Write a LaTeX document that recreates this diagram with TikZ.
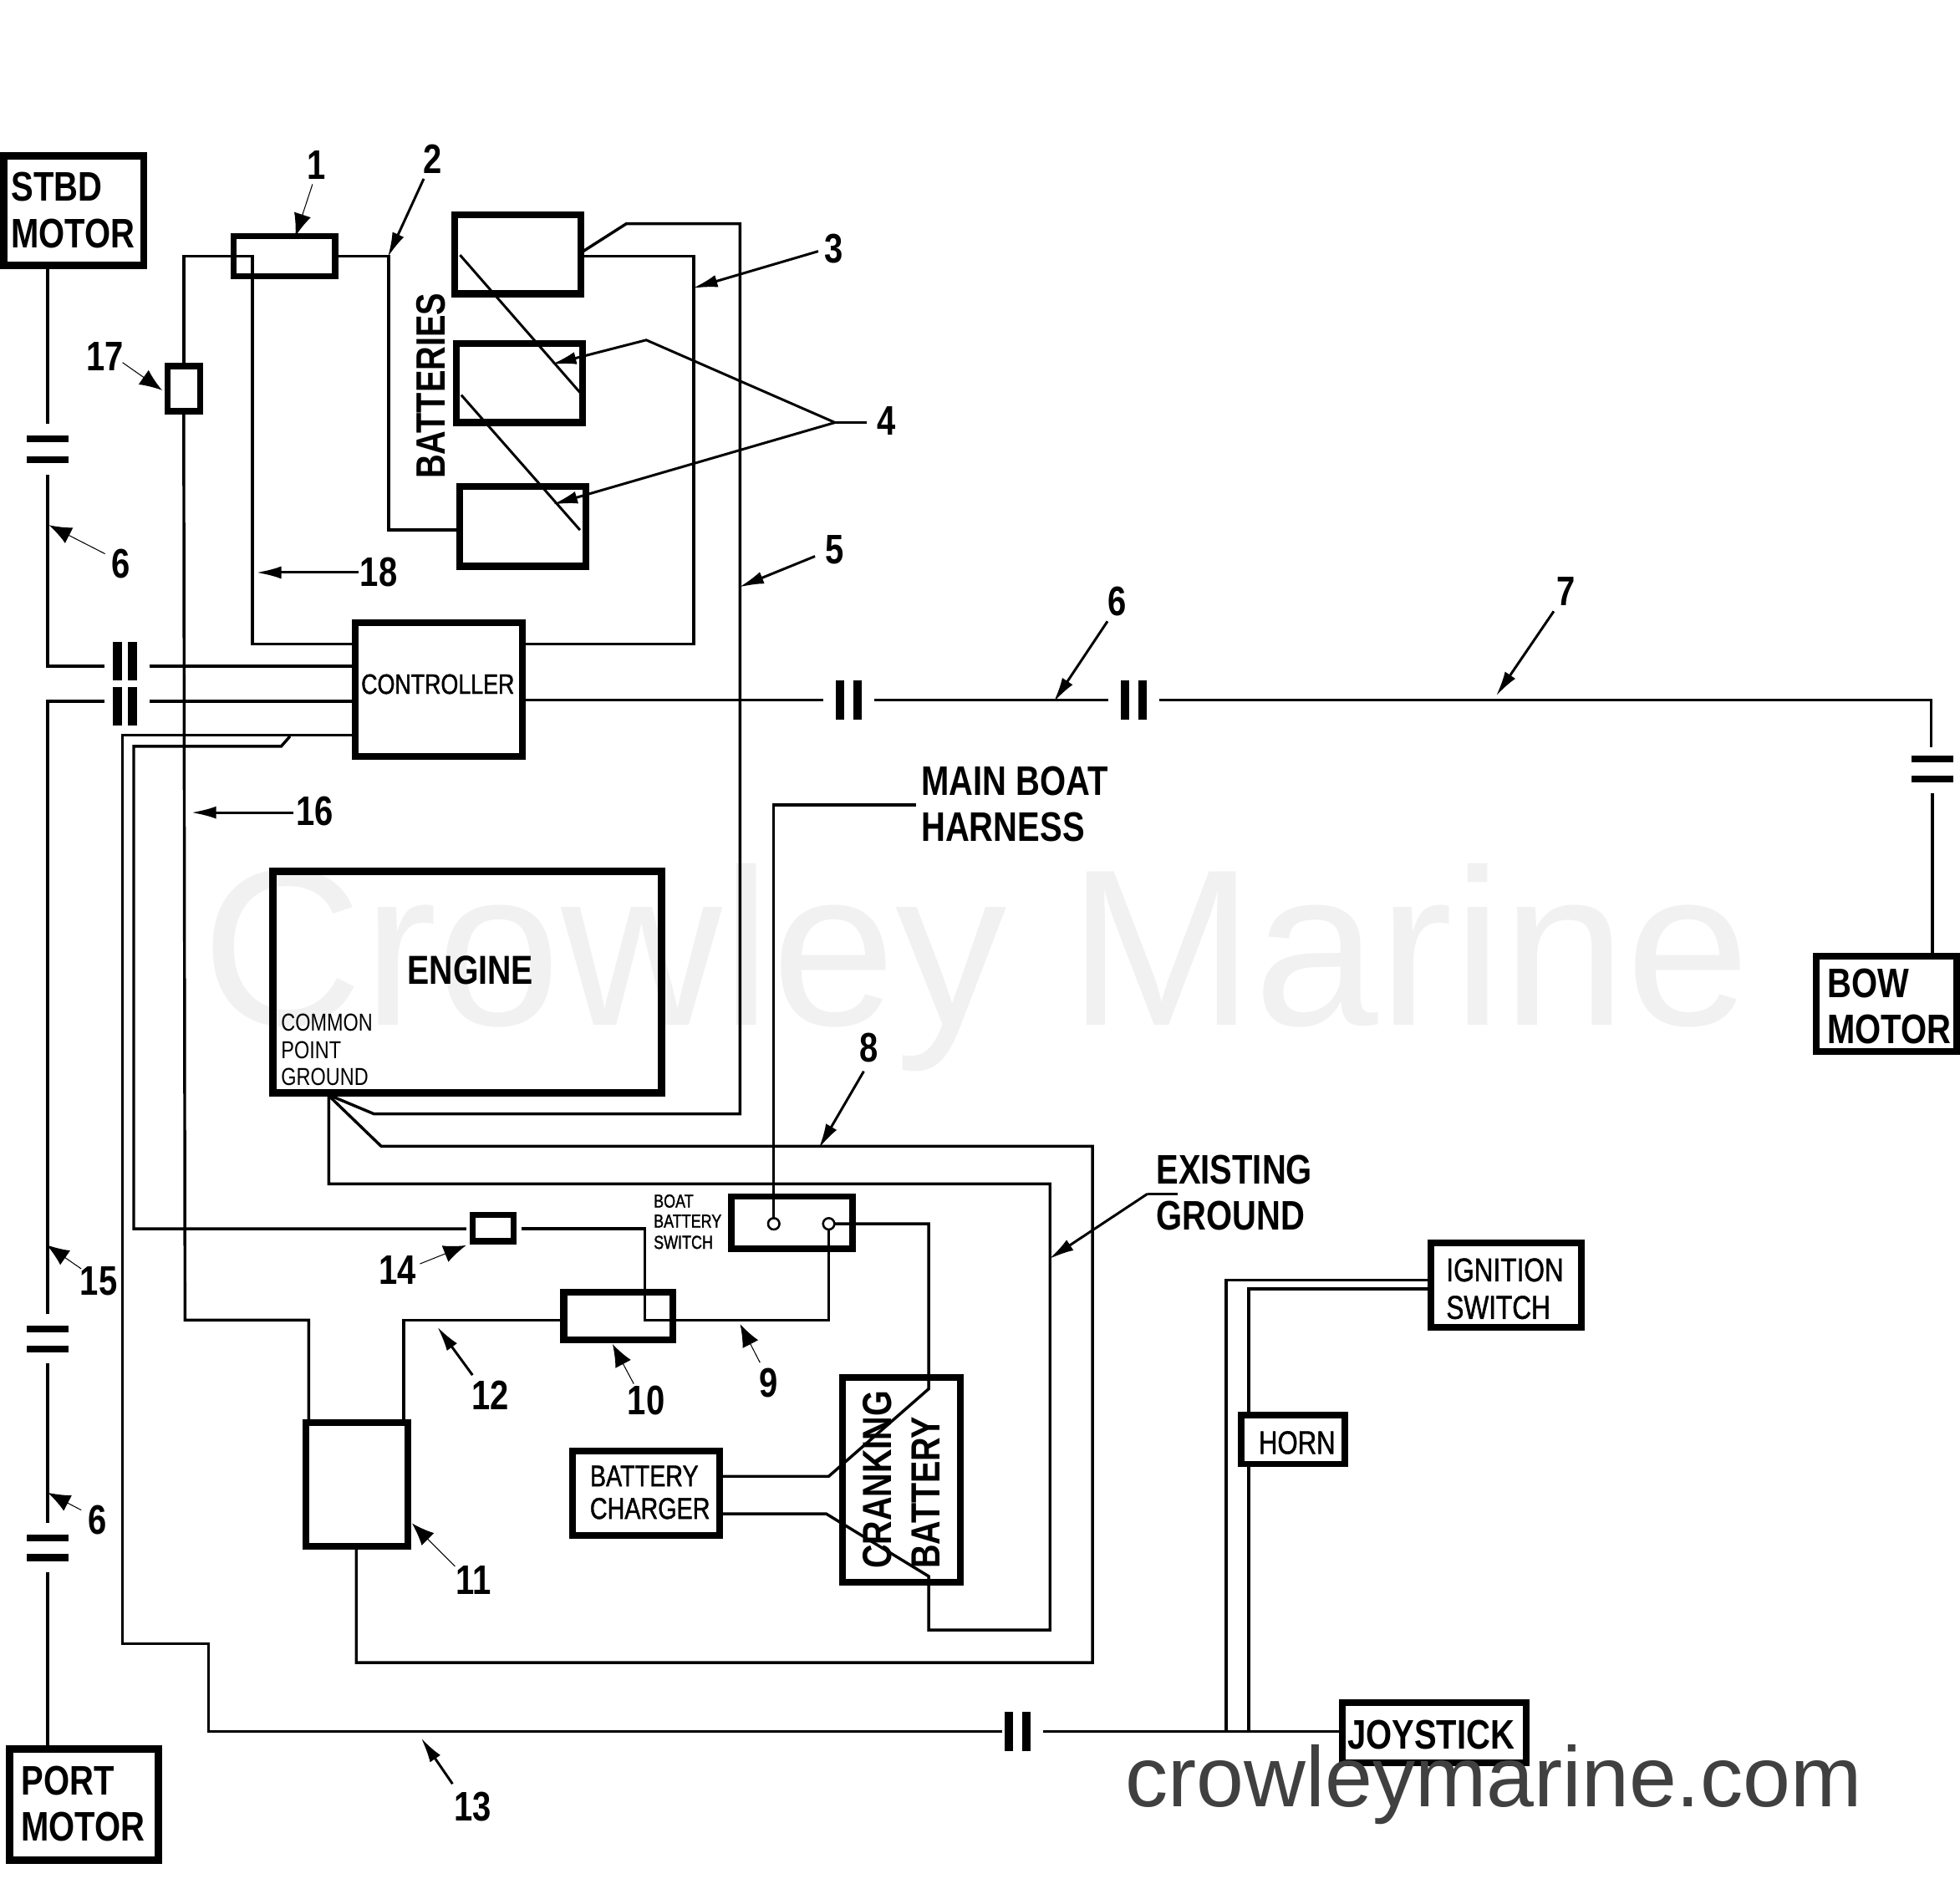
\documentclass[tikz,border=0pt]{standalone}
\usepackage{fontspec}
\usetikzlibrary{arrows.meta,calc}
\newfontfamily\labb[FakeStretch=0.81]{Liberation Sans Bold}
\newfontfamily\labm[FakeStretch=0.8,FakeBold=1.2]{Liberation Sans}
\newfontfamily\labr[FakeStretch=0.8]{Liberation Sans}
\setmainfont{Liberation Sans}
\definecolor{wm}{HTML}{F1F1F1}
\definecolor{wmd}{HTML}{404040}
\tikzset{
  wire/.style={draw=black,line width=1.15pt,line join=miter},
  boxn/.style={draw=black,rectangle,inner sep=0pt,outer sep=0pt},
  hbar/.style={fill=black,rectangle,inner sep=0pt,outer sep=0pt,minimum width=16.5pt,minimum height=2.7pt},
  vbar/.style={fill=black,rectangle,inner sep=0pt,outer sep=0pt,minimum width=3.4pt,minimum height=15.5pt},
  lab/.style={anchor=base west,inner sep=0pt,outer sep=0pt,text=black},
  num/.style={inner sep=0pt,outer sep=0pt,text=black,font=\labb\fontsize{16.5}{18}\selectfont},
  big/.style={lab,font=\labb\fontsize{16.5}{18}\selectfont},
  thinlead/.style={draw=black,line width=.35pt,shorten >=-1pt,-{Latex[length=9pt,width=7pt]}},
  medlead/.style={draw=black,line width=1pt,shorten >=-1pt,-{Latex[length=10pt,width=5pt]}},
  term/.style={circle,draw=black,line width=.8pt,fill=white,inner sep=0pt,outer sep=0pt,minimum size=4.5pt},
}
\newcommand{\mkbox}[6]{\node[boxn,line width=#6,minimum width={(#4-#2)*0.5pt},minimum height={(#5-#3)*0.5pt}] (#1) at ({(#2+#4)/2},{(#3+#5)/2}) {};}
\begin{document}
\begin{tikzpicture}[x=.5pt,y=-.5pt]
\useasboundingbox[fill=white] (0,0) rectangle (1568,1506.5);
% watermark
\node[anchor=base west,inner sep=0pt,text=wm,font=\fontsize{89.2}{100}\selectfont] (wmark) at (161,820) {Crowley Marine};
% boxes
\mkbox{stbd}{3}{125}{115}{212}{3pt}
\mkbox{fone}{187}{189}{268}{221}{2.5pt}
\mkbox{bata}{364}{172}{465}{235}{2.7pt}
\mkbox{batb}{365}{275}{466}{338}{2.7pt}
\mkbox{batc}{368}{389}{469}{453}{2.7pt}
\mkbox{fsev}{134}{293}{160}{329}{2.5pt}
\mkbox{ctrl}{284}{498}{418}{605}{2.7pt}
\mkbox{engine}{218}{697}{529}{874}{3pt}
\mkbox{sw}{585}{957}{682}{999}{2.5pt}
\mkbox{ffour}{378}{972}{411}{993}{2.5pt}
\mkbox{ften}{451}{1034}{538}{1072}{2.7pt}
\mkbox{eleven}{245}{1138}{326}{1237}{2.7pt}
\mkbox{chg}{458}{1161}{576}{1228}{2.7pt}
\mkbox{crank}{674}{1102}{768}{1266}{2.7pt}
\mkbox{ign}{1145}{994}{1265}{1062}{2.7pt}
\mkbox{horn}{993}{1132}{1076}{1171}{2.5pt}
\mkbox{joy}{1074}{1362}{1221}{1410}{2.7pt}
\mkbox{bow}{1453}{765}{1565}{841}{2.7pt}
\mkbox{port}{8}{1399}{127}{1488}{3pt}
% connector bars
\node[hbar] (ca) at (38,351) {}; \node[hbar] (cb) at (38,368) {};
\node[vbar] (da) at (94,529) {}; \node[vbar] (db) at (106,529) {};
\node[vbar] (ea) at (94,565) {}; \node[vbar] (eb) at (106,565) {};
\node[vbar] (fa) at (672,560) {}; \node[vbar] (fb) at (686,560) {};
\node[vbar] (ga) at (900,560) {}; \node[vbar] (gb) at (914,560) {};
\node[hbar] (ha) at (1546,607) {}; \node[hbar] (hb) at (1546,623) {};
\node[hbar] (ia) at (38,1063) {}; \node[hbar] (ib) at (38,1079) {};
\node[hbar] (ja) at (38,1230) {}; \node[hbar] (jb) at (38,1246) {};
\node[vbar] (ka) at (807,1385) {}; \node[vbar] (kb) at (821,1385) {};
% terminals
\node[term] (ta) at (619,979) {};
\node[term] (tb) at (663,979) {};
% wires
\draw[wire,shorten >=4.5pt] (stbd.south -| ca.north) -- (ca.north);
\draw[wire,shorten <=4.5pt,shorten >=3.5pt] (cb.south) -- (cb.south |- 0,533) -- (da.west |- 0,533);
\draw[wire,shorten <=5pt] (db.east |- 0,533) -- (ctrl.west |- 0,533);
\draw[wire,shorten >=3.5pt,shorten <=4.5pt] (ia.north) -- (ia.north |- 0,561) -- (ea.west |- 0,561);
\draw[wire,shorten <=5pt] (eb.east |- 0,561) -- (ctrl.west |- 0,561);
\draw[wire,shorten <=4.5pt,shorten >=4.5pt] (ib.south) -- (ja.north);
\draw[wire,shorten <=4.5pt] (jb.south) -- (port.north -| jb.south);
% main power
\draw[wire] (fsev.north) -- (fsev.north |- fone.west) -- (202,205) -- (202,515) -- (ctrl.west |- 0,515);
\draw[wire] (fone.east) -- (311,205) -- (311,424) -- (batc.west |- 0,424);
\draw[wire] (fsev.south) -- (148,1056) -- (247,1056) -- (eleven.north -| 247,0);
\draw[wire] (bata.east |- 0,205) -- (555,205) -- (555,515) -- (ctrl.east |- 0,515);
\draw[wire] (bata.east |- 0,202) -- (501,179) -- (592,179) -- (592,891) -- (299,891) -- (262,875.5);
\draw[wire,line width=1pt] (368,204) -- (464,314);
\draw[wire,line width=1pt] (369,316) -- (464,424);
% controller to bow
\draw[wire,shorten >=5pt] (ctrl.east |- 0,560) -- (fa.west);
\draw[wire,shorten <=5pt,shorten >=5pt] (fb.east) -- (ga.west);
\draw[wire,shorten <=5pt] (gb.east) -- (1545,560) -- (1545,598);
\draw[wire,shorten <=4.5pt] (hb.south) -- (bow.north -| hb.south);
% controller grounds
\draw[wire] (ctrl.west |- 0,588) -- (98,588) -- (98,1315) -- (167,1315) -- (167,1385) -- (802,1385);
\draw[wire] (232,589) -- (225,597) -- (107,597) -- (107,983) -- (373,983);
\draw[wire] (417,983) -- (516,983) -- (516,1056) -- (663,1056) -- (tb.south);
\draw[wire] (eleven.north -| 323,0) -- (323,1056) -- (ften.west |- 0,1056);
\draw[wire,shorten <=5pt] (kb.east) -- (joy.west |- kb.east);
% engine grounds
\draw[wire] (262,875.5) -- (305,917) -- (874,917) -- (874,1330) -- (285,1330) -- (285,1237);
\draw[wire] (263,875.5) -- (263,947) -- (840,947) -- (840,1304) -- (743,1304) -- (743,1261) -- (661,1211) -- (chg.east |- 0,1211);
\draw[wire] (chg.east |- 0,1181) -- (663,1181) -- (743,1111) -- (743,979) -- (tb.east);
\draw[wire] (ta.north) -- (619,644) -- (733,644);
% ignition / horn
\draw[wire] (ign.west |- 0,1024) -- (981,1024) -- (981,1385);
\draw[wire] (ign.west |- 0,1031) -- (999,1031) -- (horn.north -| 999,0);
\draw[wire] (horn.south -| 999,0) -- (999,1385);
% terminals redrawn above wires
\node[term] at (ta) {};
\node[term] at (tb) {};
% box texts
\node[big] (t1) at (9,161) {STBD};
\node[big] (t2) at (9,198.5) {MOTOR};
\node[big] (t3) at (17,1436) {PORT};
\node[big] (t4) at (17,1473) {MOTOR};
\node[big] (t5) at (1462,798) {BOW};
\node[big] (t6) at (1462,835) {MOTOR};
\node[big] (t7) at (1078,1399) {JOYSTICK};
\node[lab,font=\labb\fontsize{16.2}{18}\selectfont] (t8) at (326,787) {ENGINE};
\node[big] (t9) at (737,636) {MAIN BOAT};
\node[big] (t10) at (737,673) {HARNESS};
\node[big] (t11) at (925,947) {EXISTING};
\node[big] (t12) at (925,984) {GROUND};
\node[lab,font=\labm\fontsize{13.2}{15}\selectfont] (t13) at (1157,1025) {IGNITION};
\node[lab,font=\labm\fontsize{13.2}{15}\selectfont] (t14) at (1157,1055) {SWITCH};
\node[lab,font=\labm\fontsize{13}{15}\selectfont] (t15) at (1007,1163) {HORN};
\node[lab,font=\labm\fontsize{12}{15}\selectfont] (t16) at (472,1189) {BATTERY};
\node[lab,font=\labm\fontsize{12}{15}\selectfont] (t17) at (472,1215) {CHARGER};
\node[lab,font=\labm\fontsize{11.2}{13}\selectfont] (t18) at (289,555) {CONTROLLER};
\node[lab,font=\labr\fontsize{9.8}{11}\selectfont] (t19) at (225,825) {COMMON};
\node[lab,font=\labr\fontsize{9.8}{11}\selectfont] (t20) at (225,847) {POINT};
\node[lab,font=\labr\fontsize{9.8}{11}\selectfont] (t21) at (225,868) {GROUND};
\node[lab,font=\labm\fontsize{7.5}{8}\selectfont] (t22) at (523,966) {BOAT};
\node[lab,font=\labm\fontsize{7.5}{8}\selectfont] (t23) at (523,982) {BATTERY};
\node[lab,font=\labm\fontsize{7.5}{8}\selectfont] (t24) at (523,999) {SWITCH};
\node[lab,rotate=90,font=\labb\fontsize{16.4}{18}\selectfont] (t25) at (356,383) {BATTERIES};
\node[lab,rotate=90,font=\labb\fontsize{16.3}{18}\selectfont] (t26) at (713,1255) {CRANKING};
\node[lab,rotate=90,font=\labb\fontsize{16.3}{18}\selectfont] (t27) at (752,1255) {BATTERY};
% number labels and leaders
\node[num] (n1) at (253,132) {1};
\draw[thinlead] (n1.south) ++(-3,4) -- (237,187);
\node[num] (n2) at (346,127) {2};
\draw[medlead] (339,143) -- (311,204);
\node[num] (n3) at (667,199) {3};
\draw[medlead] (n3.west) ++(-5,2) -- (556,230);
\node[num] (n4) at (709,337) {4};
\coordinate (fork) at (668,338);
\draw[wire,line width=1pt] (n4.west) ++(-8,1) -- (fork);
\draw[medlead] (fork) -- (517,272) -- (443,291);
\draw[medlead] (fork) -- (444,403);
\node[num] (n5) at (668,440) {5};
\draw[medlead] (652,445) -- (593,469);
\node[num] (n6a) at (97,451) {6};
\draw[thinlead] (84,443) -- (41,421);
\node[num] (n6b) at (894,481) {6};
\draw[medlead] (886,497) -- (844,560);
\node[num] (n7) at (1253,473) {7};
\draw[medlead] (1243,489) -- (1198,555);
\node[num] (n8) at (695,838) {8};
\draw[medlead] (691,857) -- (656,917);
\node[num] (n9) at (615,1106) {9};
\draw[thinlead] (608,1090) -- (593,1061);
\node[num] (n10) at (517,1120) {10};
\draw[thinlead] (507,1107) -- (491,1077);
\node[num] (n11) at (379,1264) {11};
\draw[thinlead] (364,1253) -- (331,1220);
\node[num] (n12) at (392,1116) {12};
\draw[medlead] (378,1100) -- (351,1063);
\node[num] (n13) at (378,1445) {13};
\draw[medlead] (362,1427) -- (338,1392);
\node[num] (n14) at (318,1016) {14};
\draw[thinlead] (336,1011) -- (371,997);
\node[num] (n15) at (79,1025) {15};
\draw[thinlead] (65,1015) -- (39,997);
\node[num] (n6c) at (78,1216) {6};
\draw[thinlead] (65,1208) -- (40,1195);
\node[num] (n16) at (252,649) {16};
\draw[medlead] (235,650) -- (155,650);
\node[num] (n17) at (84,285) {17};
\draw[thinlead] (98,290) -- (128,311);
\node[num] (n18) at (303,458) {18};
\draw[medlead] (287,458) -- (207,458);
% existing ground leader
\coordinate (eg) at (918,955);
\draw[wire,line width=1pt] (942,955) -- (eg);
\draw[medlead] (eg) -- (841,1006);
% site mark
\node[anchor=base west,inner sep=0pt,text=wmd,font=\fontsize{34.2}{36}\selectfont] (site) at (900,1445) {crowleymarine.com};
\end{tikzpicture}
\end{document}
